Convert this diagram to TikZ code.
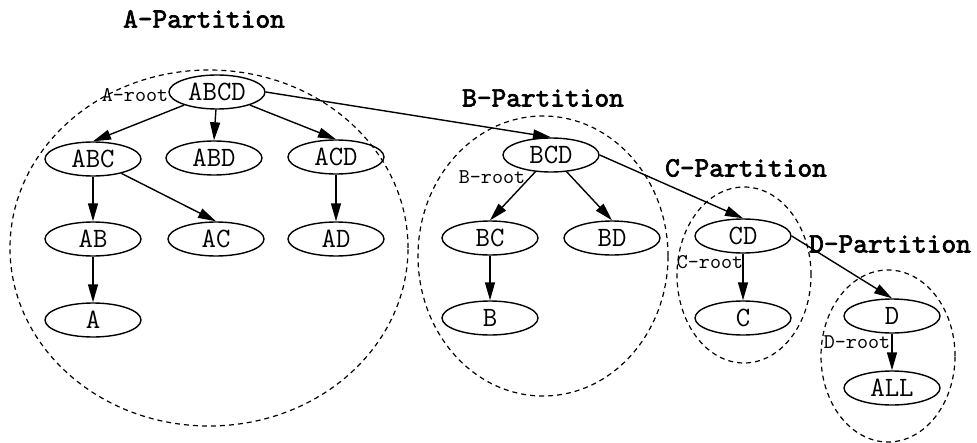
\documentclass[tikz,border=0pt]{standalone}
\usepackage{fontspec}
\newfontfamily\titlefont[FakeBold=2.5]{lmmono10-regular.otf}
\usetikzlibrary{shapes.geometric,arrows.meta}
\begin{document}
\begin{tikzpicture} [x=0.5pt,y=-0.5pt,
	cube/.style={shape=ellipse,draw,line width=0.7pt,minimum width=48pt,minimum height=17pt,inner sep=0pt,font=\ttfamily\fontsize{14}{16}\selectfont},
	part/.style={shape=ellipse,draw,line width=0.6pt,dash pattern=on 2.5pt off 2pt,inner sep=0pt},
	parttitle/.style={font=\titlefont\fontsize{14}{16}\selectfont},
	rootlabel/.style={font=\ttfamily\fontsize{10.5}{12}\selectfont,inner sep=0pt},
	edge/.style={line width=0.7pt,-{Triangle[length=9pt,width=5pt]}}]
	\useasboundingbox (0,0) rectangle (977,443);

	% partitions
	\node (Apart) at (209,248)[part,minimum width=199pt,minimum height=178pt] {};
	\node (Bpart) at (543,256)[part,minimum width=125pt,minimum height=140pt] {};
	\node (Cpart) at (744,275)[part,minimum width=67pt,minimum height=88pt] {};
	\node (Dpart) at (888,356)[part,minimum width=67pt,minimum height=86pt] {};
	\node (Atitle) at (204,19)[parttitle] {A-Partition};
	\node (Btitle) at (543,98)[parttitle] {B-Partition};
	\node (Ctitle) at (746,168)[parttitle] {C-Partition};
	\node (Dtitle) at (890,244)[parttitle] {D-Partition};

	% cuboids
	\node (ABCD) at (217,92)[cube] {ABCD};
	\node (ABC) at (93,159)[cube] {ABC};
	\node (ABD) at (214,158)[cube] {ABD};
	\node (ACD) at (336,157)[cube] {ACD};
	\node (AB) at (93,239)[cube] {AB};
	\node (AC) at (216,239)[cube] {AC};
	\node (AD) at (336,239)[cube] {AD};
	\node (A) at (93,320)[cube] {A};
	\node (BCD) at (551,155)[cube] {BCD};
	\node (BC) at (490,238)[cube] {BC};
	\node (BD) at (612,238)[cube] {BD};
	\node (B) at (490,318)[cube] {B};
	\node (CD) at (743,236)[cube] {CD};
	\node (C) at (743,318)[cube] {C};
	\node (D) at (892,316)[cube] {D};
	\node (ALL) at (892,388)[cube] {ALL};

	\node (Aroot) at (135,95)[rootlabel] {A-root};
	\node (Broot) at (492,177)[rootlabel] {B-root};
	\node (Croot) at (710,262)[rootlabel] {C-root};
	\node (Droot) at (857,342)[rootlabel] {D-root};

	\foreach \from/\to in {ABCD/ABC,ABCD/ABD,ABCD/ACD,ABC/AB,ACD/AD,AB/A,BCD/BC,BCD/BD,BC/B,CD/C,D/ALL}
		\draw[edge] (\from) -- (\to.north);
	\draw[edge] (ABC) -- (AC.north);
	\draw[edge] (ABCD.east) -- (BCD.north);
	\draw[edge] (BCD.east) -- (CD.north);
	\draw[edge] (CD.east) -- (D.north);
\end{tikzpicture}
\end{document}
